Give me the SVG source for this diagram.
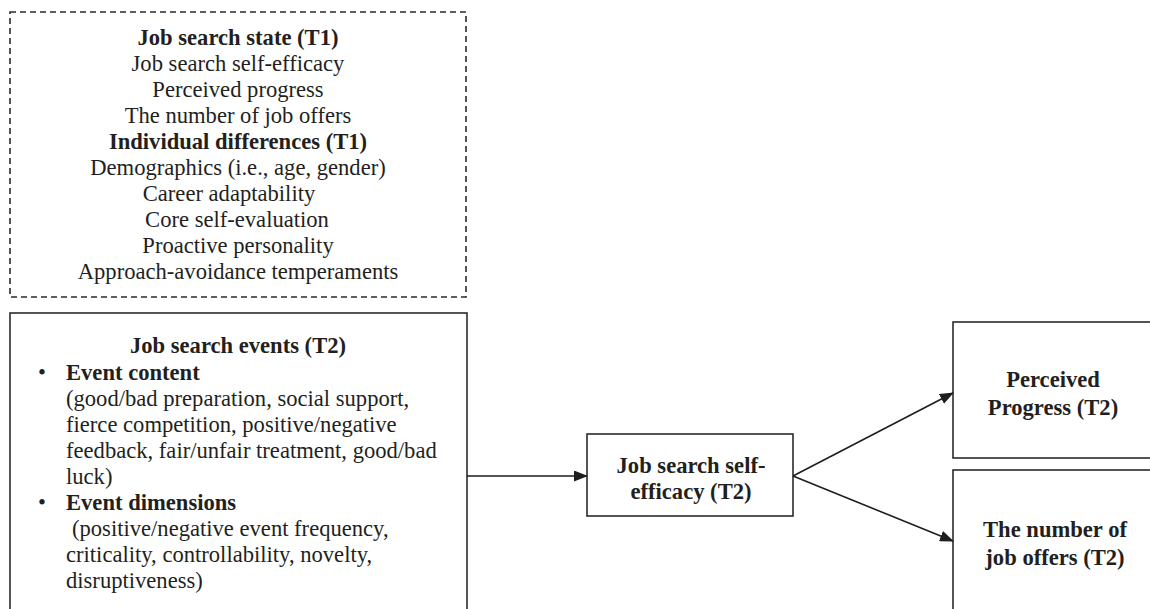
<svg xmlns="http://www.w3.org/2000/svg" width="1150" height="609" viewBox="0 0 1150 609">
<defs>
<style>
.t{font-family:"Liberation Serif","Times New Roman",serif;font-size:22.6px;fill:#231f20}
.b{font-weight:bold}
.m{text-anchor:middle}
.box{fill:#fff;stroke:#2b2b2b;stroke-width:1.6}
.dash{fill:none;stroke:#2b2b2b;stroke-width:1.6;stroke-dasharray:6 4}
.ln{fill:none;stroke:#1e1e1e;stroke-width:1.6}
</style>
<marker id="ah" markerWidth="14" markerHeight="11" refX="13" refY="5.5" orient="auto" markerUnits="userSpaceOnUse">
<path d="M0,0 L14,5.5 L0,11 Z" fill="#1e1e1e"/>
</marker>
</defs>
<rect width="1150" height="609" fill="#fff"/>
<g id="t1-box">
<rect class="dash" x="10" y="12" width="456" height="285"/>
<text class="t b m" x="238" y="45">Job search state (T1)</text>
<text class="t m" x="238" y="71">Job search self-efficacy</text>
<text class="t m" x="238" y="97">Perceived progress</text>
<text class="t m" x="238" y="123">The number of job offers</text>
<text class="t b m" x="238" y="149">Individual differences (T1)</text>
<text class="t m" x="238" y="175">Demographics (i.e., age, gender)</text>
<text class="t m" x="229" y="201">Career adaptability</text>
<text class="t m" x="237" y="227">Core self-evaluation</text>
<text class="t m" x="238" y="253">Proactive personality</text>
<text class="t m" x="238" y="279">Approach-avoidance temperaments</text>
</g>
<g id="events">
<rect class="box" x="10" y="313" width="457" height="310"/>
<text class="t b m" x="238" y="353">Job search events (T2)</text>
<text class="t" x="38" y="380">•</text>
<text class="t b" x="66" y="380">Event content</text>
<text class="t" x="66" y="406">(good/bad preparation, social support,</text>
<text class="t" x="66" y="432">fierce competition, positive/negative</text>
<text class="t" x="66" y="458">feedback, fair/unfair treatment, good/bad</text>
<text class="t" x="66" y="484">luck)</text>
<text class="t" x="38" y="510">•</text>
<text class="t b" x="66" y="510">Event dimensions</text>
<text class="t" x="72" y="536">(positive/negative event frequency,</text>
<text class="t" x="66" y="562">criticality, controllability, novelty,</text>
<text class="t" x="66" y="588">disruptiveness)</text>
</g>
<g id="self-efficacy">
<rect class="box" x="587" y="434" width="206" height="82"/>
<text class="t b m" x="691" y="473">Job search self-</text>
<text class="t b m" x="691" y="499">efficacy (T2)</text>
</g>
<g id="progress">
<rect class="box" x="953" y="322" width="210" height="136"/>
<text class="t b m" x="1053" y="387">Perceived</text>
<text class="t b m" x="1053" y="415">Progress (T2)</text>
</g>
<g id="offers">
<rect class="box" x="953" y="470" width="210" height="160"/>
<text class="t b m" x="1055" y="537">The number of</text>
<text class="t b m" x="1055" y="565">job offers (T2)</text>
</g>
<g id="connectors">
<line class="ln" x1="467" y1="476" x2="587" y2="476" marker-end="url(#ah)"/>
<line class="ln" x1="793" y1="476" x2="953" y2="393" marker-end="url(#ah)"/>
<line class="ln" x1="793" y1="476" x2="953" y2="541" marker-end="url(#ah)"/>
</g>
</svg>
